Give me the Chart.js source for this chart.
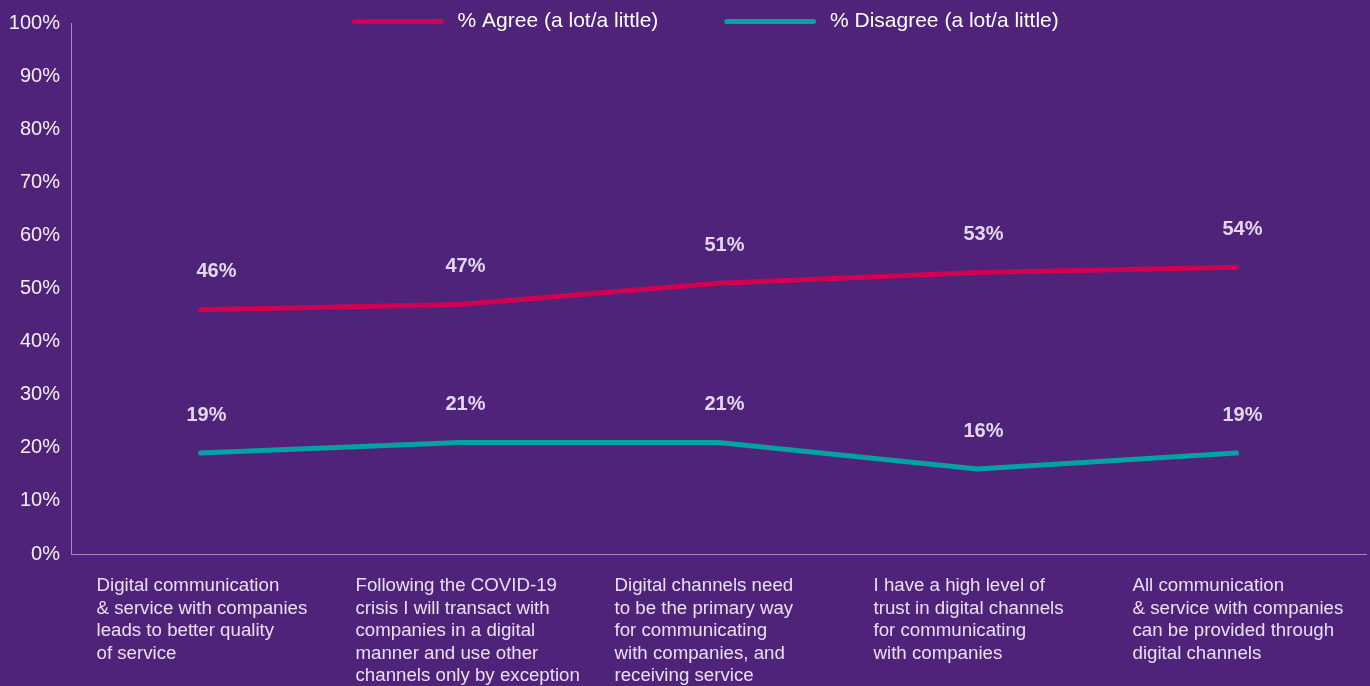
<!DOCTYPE html>
<html>
<head>
<meta charset="utf-8">
<script src="https://cdn.jsdelivr.net/npm/chart.js@4/dist/chart.umd.min.js"></script>
<style>
  html, body { margin: 0; padding: 0; background: #50237a; }
  #wrap { width: 1370px; height: 686px; position: relative; }
</style>
</head>
<body>
<div id="wrap"><canvas id="chart"></canvas></div>
<script>
const categories = [
    ['Digital communication', '& service with companies', 'leads to better quality', 'of service'],
    ['Following the COVID-19', 'crisis I will transact with', 'companies in a digital', 'manner and use other', 'channels only by exception'],
    ['Digital channels need', 'to be the primary way', 'for communicating', 'with companies, and', 'receiving service'],
    ['I have a high level of', 'trust in digital channels', 'for communicating', 'with companies'],
    ['All communication', '& service with companies', 'can be provided through', 'digital channels']
];
const agree = [46, 47, 51, 53, 54];
const disagree = [19, 21, 21, 16, 19];
const seriesNames = ['% Agree (a lot/a little)', '% Disagree (a lot/a little)'];
const yTicks = [0, 10, 20, 30, 40, 50, 60, 70, 80, 90, 100];

const FONT = '"Liberation Sans", Arial, sans-serif';

// value labels above each point
const valueLabels = {
    id: 'valueLabels',
    afterDatasetsDraw(chart) {
        const ctx = chart.ctx;
        ctx.save();
        ctx.font = 'bold 20px ' + FONT;
        ctx.fillStyle = '#e2d8ee';
        ctx.textAlign = 'center';
        ctx.textBaseline = 'middle';
        chart.data.datasets.forEach((ds, d) => {
            chart.getDatasetMeta(d).data.forEach((pt, i) => {
                const dx = i === 0 && d === 0 ? 16 : 6;
                ctx.fillText(ds.data[i] + '%', pt.x + dx, pt.y - 38);
            });
        });
        ctx.restore();
    }
};

// legend takes no room: lift it into the top strip above the plot
const legendShift = {
    id: 'legendShift',
    afterLayout(chart) {
        const lg = chart.legend;
        if (!lg) return;
        lg.top = 1;
        lg.bottom = 46;
        lg.height = 45;
        lg.left -= 12;
        lg.right -= 12;
    }
};

new Chart(document.getElementById('chart'), {
    type: 'line',
    data: {
        labels: categories,
        datasets: [{
            label: seriesNames[0],
            data: agree,
            borderColor: '#d10050',
            backgroundColor: '#d10050',
            borderWidth: 5,
            borderCapStyle: 'round',
            borderJoinStyle: 'round',
            pointRadius: 0,
            tension: 0
        }, {
            label: seriesNames[1],
            data: disagree,
            borderColor: '#00a3a1',
            backgroundColor: '#00a3a1',
            borderWidth: 5,
            borderCapStyle: 'round',
            borderJoinStyle: 'round',
            pointRadius: 0,
            tension: 0
        }]
    },
    options: {
        responsive: true,
        maintainAspectRatio: false,
        animation: false,
        layout: { padding: { top: 22, left: 9, right: 4, bottom: 0 } },
        scales: {
            x: {
                offset: true,
                grid: { display: false, drawTicks: false },
                border: { display: true, color: '#a18bbd', width: 1 },
                ticks: {
                    color: '#e8e0f0',
                    font: { size: 18.7, family: FONT, lineHeight: '22.5px' },
                    align: 'start',
                    labelOffset: -104,
                    padding: 21,
                    maxRotation: 0,
                    autoSkip: false
                },
                afterFit(s) {
                    s.paddingLeft = 0;
                    s.paddingRight = 0;
                    s.height = 132;
                }
            },
            y: {
                min: 0,
                max: 100,
                grid: { display: false, drawTicks: false },
                border: { display: true, color: '#a18bbd', width: 1 },
                afterBuildTicks(s) {
                    s.ticks = yTicks.map(v => ({ value: v }));
                },
                afterFit(s) {
                    s.width = 62;
                },
                ticks: {
                    color: '#f4f0f8',
                    font: { size: 20, family: FONT },
                    padding: 11,
                    callback: v => v + '%'
                }
            }
        },
        plugins: {
            legend: {
                position: 'top',
                fullSize: false,
                align: 'center',
                maxHeight: 1,
                labels: {
                    usePointStyle: true,
                    pointStyle: 'line',
                    pointStyleWidth: 87,
                    color: '#ffffff',
                    font: { size: 21, family: FONT },
                    padding: 10,
                    generateLabels(chart) {
                        const n = chart.data.datasets.length;
                        return chart.data.datasets.map((ds, i) => ({
                            text: ' ' + ds.label + (i < n - 1 ? '          ' : ''),
                            fillStyle: ds.borderColor,
                            strokeStyle: ds.borderColor,
                            lineWidth: 5,
                            lineCap: 'round',
                            pointStyle: 'line',
                            fontColor: '#ffffff',
                            hidden: false,
                            datasetIndex: i
                        }));
                    }
                }
            },
            tooltip: { enabled: false }
        }
    },
    plugins: [valueLabels, legendShift]
});
</script>
</body>
</html>
